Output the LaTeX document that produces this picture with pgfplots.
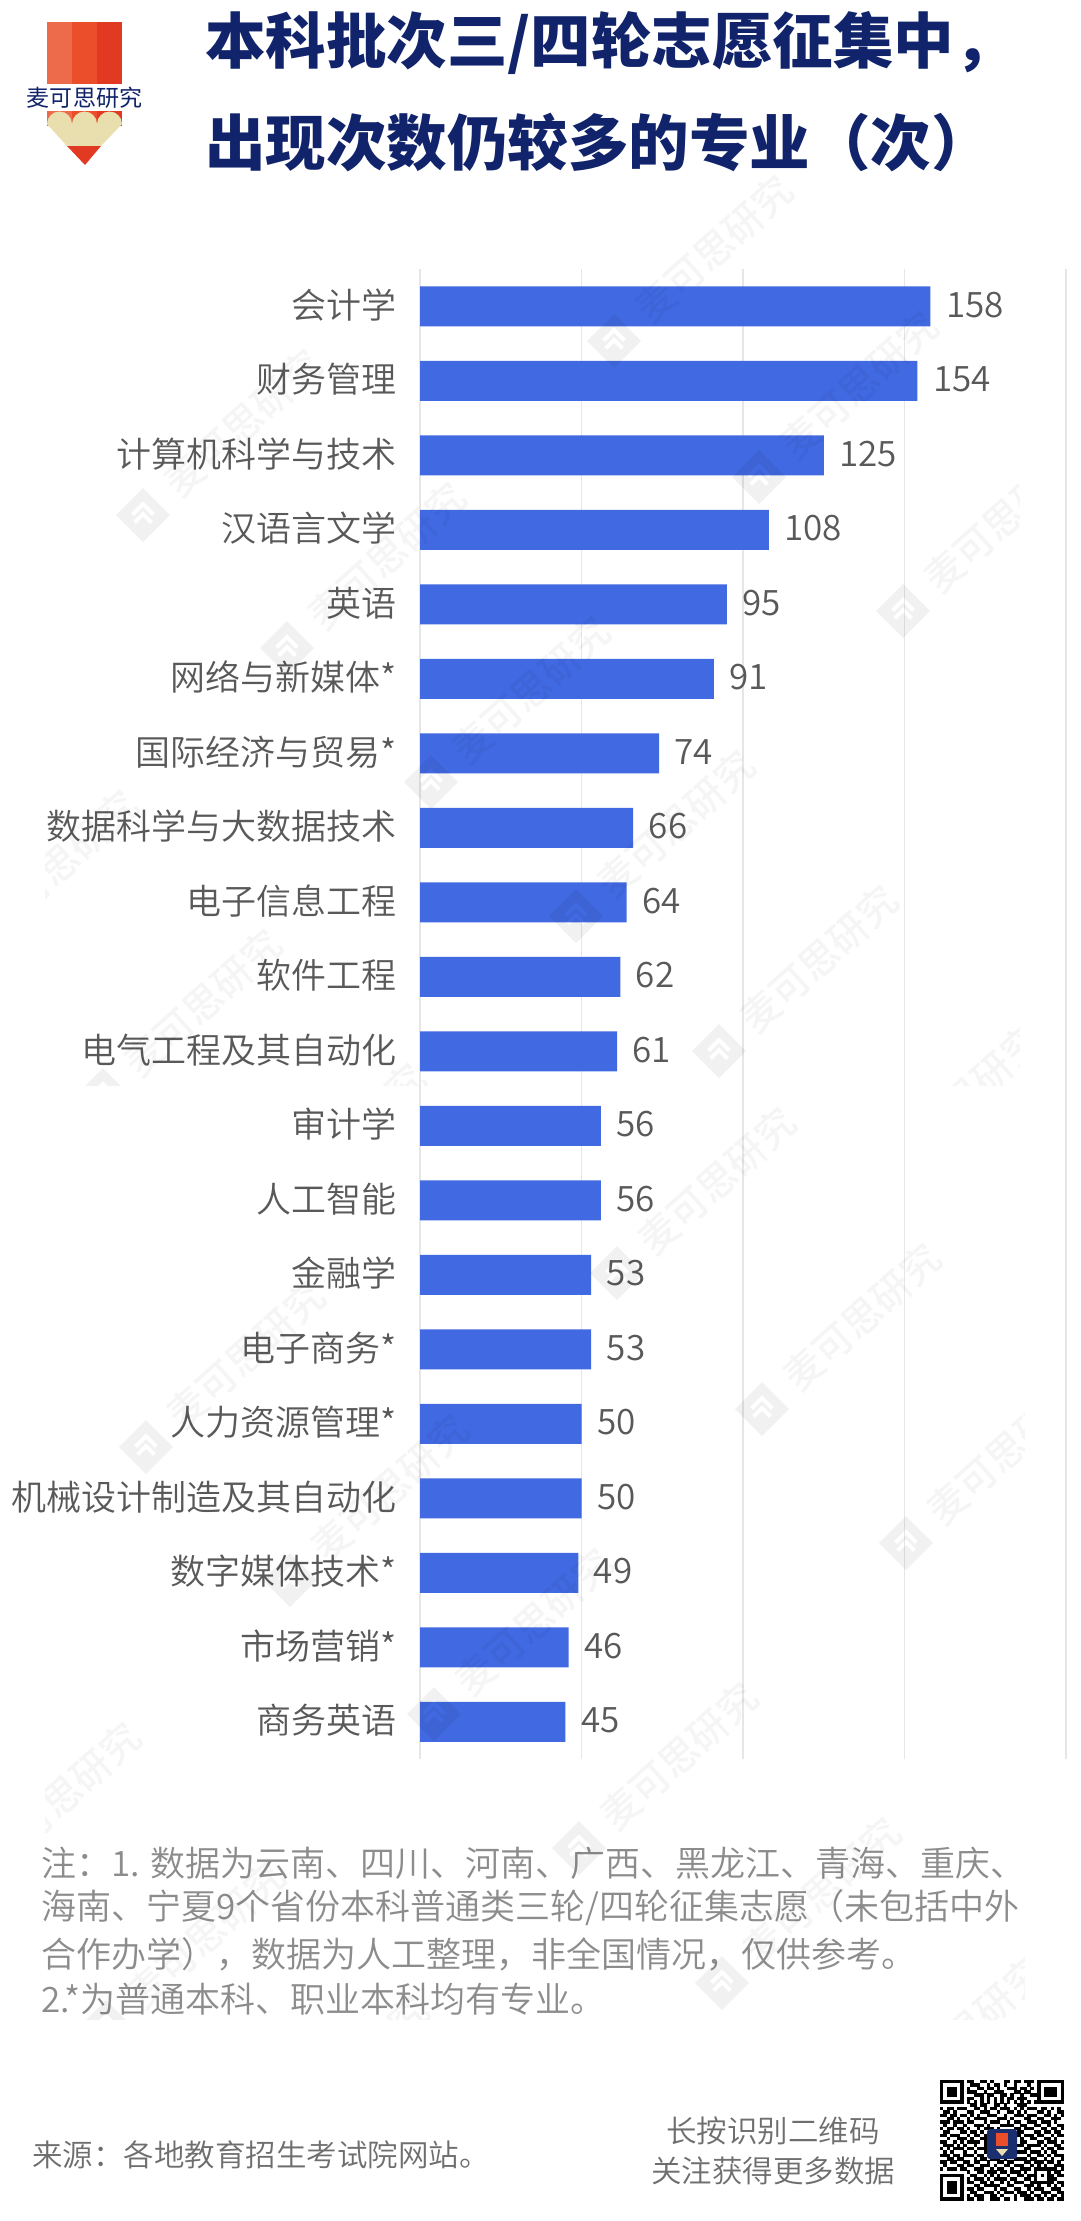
\documentclass[border=0pt]{standalone}
\usepackage{fontspec}
\usepackage{pgfplots}
\pgfplotsset{compat=1.18}
\usepackage{pgfplotstable}
\setmainfont{Noto Sans CJK SC}
\newfontfamily\lt{Noto Sans CJK SC DemiLight}
\newfontfamily\blk{Noto Sans CJK SC Black}
\newfontfamily\md{Noto Sans CJK SC Medium}
\definecolor{navy}{HTML}{11246B}
\definecolor{barc}{HTML}{4169E1}
\definecolor{gridc}{HTML}{E6E6E6}
\definecolor{lab}{HTML}{595959}
\definecolor{notec}{HTML}{8C8C8C}
\definecolor{src}{HTML}{6E6E6E}
\definecolor{redA}{HTML}{ED6A4B}
\definecolor{redB}{HTML}{EA4E2A}
\definecolor{redC}{HTML}{E23A22}
\definecolor{cream}{HTML}{E9DFAE}
\definecolor{qrnavy}{HTML}{1B2F6E}
\pgfplotstableread{
rank value
1 158
2 154
3 125
4 108
5 95
6 91
7 74
8 66
9 64
10 62
11 61
12 56
13 56
14 53
15 53
16 50
17 50
18 49
19 46
20 45
}\majors
\newcount\qrc
\def\qrloop#1{\ifx#1.\else\ifx#11\fill[black] ({940+\the\qrc*3.35},{2080+(\r-1)*3.35}) rectangle ++(3.45,3.45);\fi\advance\qrc by 1 \expandafter\qrloop\fi}
\newcommand\wm[2]{%
 \begin{scope}[shift={(#1,#2)}]
 \fill[black,opacity=0.055,even odd rule] (27,0)--(0,-27)--(-27,0)--(0,27)--cycle
   (-12,-2)--(0,-14)--(12,-2)--(9,1)--(0,-8)--(-9,1)--cycle
   (-10,6)--(0,-4)--(10,6)--(7,9)--(0,2)--(-7,9)--cycle;
 \node[rotate=42,opacity=0.04,text=black,inner sep=0] at (100,-92) {\fontsize{39}{39}\selectfont\md 麦可思研究};
 \end{scope}}
\newcommand\wmtile[2]{%
 \wm{143+#1}{515+#2}\wm{287+#1}{648+#2}\wm{431+#1}{782+#2}\wm{576+#1}{916+#2}\wm{719+#1}{1051+#2}\wm{863+#1}{1190+#2}
 \wm{614+#1}{341+#2}\wm{759+#1}{477+#2}\wm{903+#1}{611+#2}\wm{-41+#1}{956+#2}\wm{103+#1}{1095+#2}\wm{247+#1}{1229+#2}}
\begin{document}
\begin{tikzpicture}[x=1pt,y=-1pt]
\fill[white] (0,0) rectangle (1080,2221);
\begin{axis}[
  at={(420pt,-269pt)},anchor=north west,scale only axis,
  width=646pt,height=1490pt,
  xmin=0,xmax=200,ymin=0.5,ymax=20.5,y dir=reverse,
  xtick={0,50,100,150,200},xticklabels={},
  ytick={1,...,20},
  yticklabels={会计学,财务管理,计算机科学与技术,汉语言文学,英语,网络与新媒体*,国际经济与贸易*,数据科学与大数据技术,电子信息工程,软件工程,电气工程及其自动化,审计学,人工智能,金融学,电子商务*,人力资源管理*,机械设计制造及其自动化,数字媒体技术*,市场营销*,商务英语},
  yticklabel style={font=\fontsize{35}{35}\selectfont\lt,text=lab,inner sep=0pt,anchor=east,xshift=-23pt,yshift=1.5pt},
  major tick length=0pt,
  axis line style={draw=none},
  xmajorgrids,
  grid style={gridc,line width=1.6pt},
  xbar,bar width=40pt,bar shift=0pt,
  nodes near coords,
  every node near coord/.append style={font=\fontsize{35}{35}\selectfont\lt,text=lab,inner sep=0pt,anchor=west,xshift=15.5pt,yshift=1.5pt},
  /pgf/number format/assume math mode=true,
]
\addplot[fill=barc,draw=none] table[x=value,y=rank] {\majors};
\end{axis}
% title
\node[anchor=west,inner sep=0,text=navy] at (205,43) {\fontsize{60.5}{60}\selectfont\blk 本科批次三/四轮志愿征集中，};
\node[anchor=west,inner sep=0,text=navy] at (205,143) {\fontsize{60.5}{60}\selectfont\blk 出现次数仍较多的专业（次）};
% logo
\fill[redA] (47,22) rectangle (72,84);
\fill[redB] (72,22) rectangle (97,84);
\fill[redC] (97,22) rectangle (122,84);
\fill[redA] (47,111) rectangle (72,126);
\fill[redB] (72,111) rectangle (97,126);
\fill[redC] (97,111) rectangle (122,126);
\fill[cream] (47,124) arc[start angle=180,end angle=360,radius=12.5] arc[start angle=180,end angle=360,radius=12.5] arc[start angle=180,end angle=360,radius=12.5] -- (101,146) -- (67,146) -- cycle;
\fill[redC] (67,146) -- (101,146) -- (85,165) -- cycle;
\node[inner sep=0,text=navy] at (84.5,98) {\fontsize{23}{23}\selectfont 麦可思研究};
% notes
\node[anchor=west,inner sep=0,text=notec] at (41,1863) {\fontsize{35}{35}\selectfont\lt 注：1. 数据为云南、四川、河南、广西、黑龙江、青海、重庆、};
\node[anchor=west,inner sep=0,text=notec] at (41,1908) {\fontsize{35}{35}\selectfont\lt 海南、宁夏9个省份本科普通类三轮/四轮征集志愿（未包括中外};
\node[anchor=west,inner sep=0,text=notec] at (41,1954) {\fontsize{35}{35}\selectfont\lt 合作办学），数据为人工整理，非全国情况，仅供参考。};
\node[anchor=west,inner sep=0,text=notec] at (41,1999) {\fontsize{35}{35}\selectfont\lt 2.*为普通本科、职业本科均有专业。};
\node[anchor=west,inner sep=0,text=src] at (32,2155) {\fontsize{30.5}{30}\selectfont\lt 来源：各地教育招生考试院网站。};
\node[inner sep=0,text=src] at (773,2131) {\fontsize{30.5}{30}\selectfont\lt 长按识别二维码};
\node[inner sep=0,text=src] at (773,2171) {\fontsize{30.5}{30}\selectfont\lt 关注获得更多数据};
% QR
\foreach \row [count=\r] in {
1111111011001101000110110111011111111,
1000001001110010110100100010010000001,
1011101010011011010011101101010111101,
1011101011100100111000110110010111101,
1011101000111011001101001001110111101,
1000001011001010101011011100010000001,
1111111010101010101010101010111111111,
0000000001101100110100011100000000000,
1011011100110101101110101011101101010,
0110100011001110010011010100011010011,
1101101101010011100100111011100110101,
0011010010111100011101000110011001110,
1110111011000101110010110011101110100,
0100100100111010001111001100110010011,
1011011010010111010000110111001101101,
0110001101101000111011011000110110110,
1101110010110100000000010111011001011,
0010011101001100000000001001100110100,
1100101011110100000000001100011011101,
0111010100100100000000011011110100110,
1010111011011100000000000110001011011,
0101000100100100000000011101110101100,
1110110111011000000000000010011010111,
0011011000101101110100111101100101001,
1101100110110010011011000110111011010,
0100011011001110100110111001010100111,
1011101100111001011001001110111111101,
0000000010011011101101110100100010110,
1111111001100101010010011011101011011,
1000001010111010111101100110100011100,
1011101011001101001010111001111111011,
1011101000110111110011000111010010101,
1011101011011000101100110010111001110,
1011101001100111010111011101001110011,
1000001010111001101000101110110101101,
1111111011011001110110100111011011011}{%
 \qrc=0 \expandafter\qrloop\row.}
\fill[qrnavy,rounded corners=3pt] (987,2129) rectangle (1017,2159);
\fill[redB] (996,2133) rectangle (1008,2146);
\fill[cream] (996,2149) -- (1008,2149) -- (1002,2156) -- cycle;
% watermark
\begin{scope}
\clip (45,151) rectangle (1019,1085);
\wmtile{0}{0}
\end{scope}
\begin{scope}
\clip (45,1085) rectangle (1024,2019);
\wmtile{3}{932}
\end{scope}
\end{tikzpicture}
\end{document}
